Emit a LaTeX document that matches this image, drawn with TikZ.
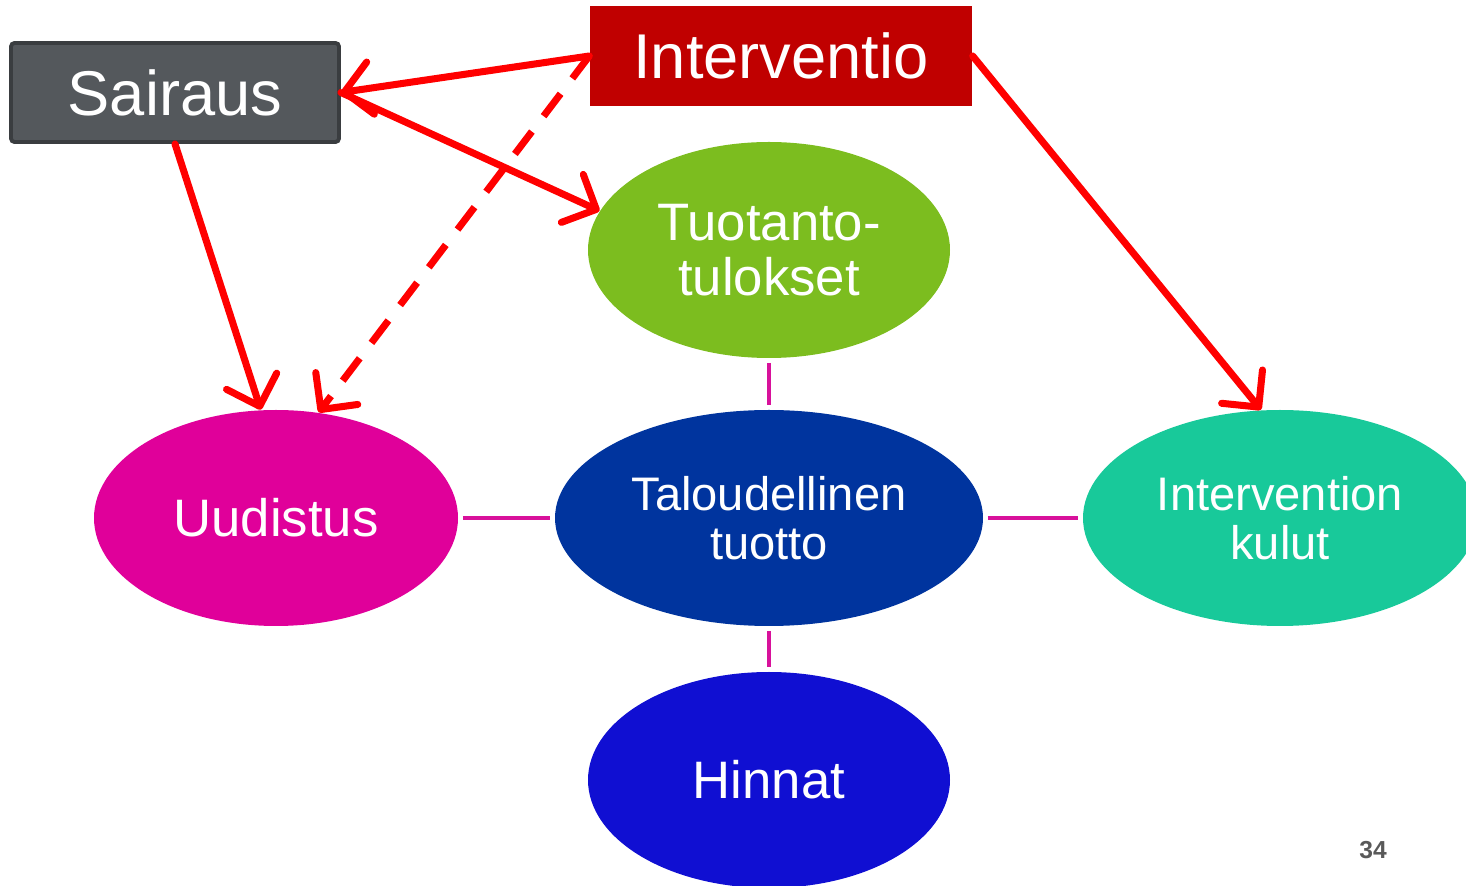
\documentclass[tikz,border=0pt]{standalone}
\usepackage{fontspec}
\setmainfont{Liberation Sans}
\usetikzlibrary{arrows.meta,shapes.geometric}
\definecolor{boxgrey}{HTML}{54585C}
\definecolor{boxedge}{HTML}{3A3D40}
\definecolor{boxred}{HTML}{C00000}
\definecolor{arrowred}{HTML}{FF0000}
\definecolor{linkpink}{HTML}{D8119B}
\definecolor{tgreen}{HTML}{7CBD1F}
\definecolor{umagenta}{HTML}{E0009A}
\definecolor{tblue}{HTML}{00349E}
\definecolor{kteal}{HTML}{18C99A}
\definecolor{hblue}{HTML}{100FD2}

\begin{document}
\begin{tikzpicture}[scale=1,
  main node/.style={ellipse,inner sep=0pt,minimum width=3.62cm,minimum height=2.16cm,text=white,align=center,font=\fontsize{15}{15.5}\selectfont},
  box node/.style={rectangle,inner sep=0pt,text=white,font=\fontsize{18}{18}\selectfont},
  red arrow/.style={draw=arrowred,line width=2pt,line cap=round,-{Straight Barb[length=7.5pt,width=15pt,round]}},
  link/.style={draw=linkpink,line width=1pt,shorten <=1.2pt,shorten >=1.2pt}]
        \useasboundingbox (0,0) rectangle (14.66,8.86);
        		%nodes
        			  \node[box node,fill=boxgrey,draw=boxedge,line width=1.1pt,rounded corners=1pt,minimum width=3.28cm,minimum height=0.99cm] (1) at (1.75,7.935) {Sairaus};
        			  \node[box node,fill=boxred,minimum width=3.82cm,minimum height=1.0cm] (2) at (7.81,8.30) {Interventio};
        			  \node[main node,fill=tgreen] (3) at (7.69,6.36) {Tuotanto-\\tulokset};
        			  \node[main node,fill=umagenta,minimum width=3.64cm] (4) at (2.76,3.68) {Uudistus};
        			  \node[main node,fill=tblue,minimum width=4.28cm,font=\fontsize{13.4}{14}\selectfont] (5) at (7.69,3.68) {Taloudellinen\\tuotto};
        			  \node[main node,fill=kteal,minimum width=3.94cm,font=\fontsize{13.4}{14}\selectfont] (6) at (12.80,3.68) {Intervention\\kulut};
        			  \node[main node,fill=hblue] (7) at (7.69,1.06) {Hinnat};
        			  \node[text=black!65,font=\bfseries\fontsize{7}{7}\selectfont] (8) at (13.73,0.36) {34};
        		%Edges
        			  \path (3) edge [link] (5);
        			  \path (4) edge [link] (5);
        			  \path (5) edge [link] (6);
        			  \path (5) edge [link] (7);
        			  \path (2.west) edge [red arrow] (1.east);
        			  \path (1.east) edge [red arrow] (3.167);
        			  \path (1.south) edge [red arrow] (4.98);
        			  \path (2.west) edge [red arrow,line cap=butt,dash pattern=on 8pt off 5.5pt] (4.68);
        			  \path (2.east) edge [red arrow] (6.100);
        \end{tikzpicture}
\end{document}
